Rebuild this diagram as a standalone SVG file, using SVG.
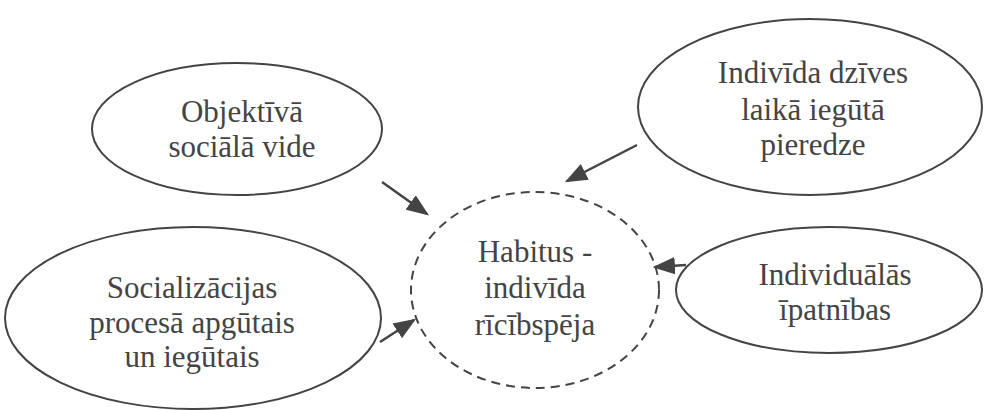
<svg xmlns="http://www.w3.org/2000/svg" width="984" height="410" viewBox="0 0 984 410">
  <style>
    .node { fill: #ffffff; stroke: #444444; stroke-width: 2; }
    .dash { fill: #ffffff; stroke: #444444; stroke-width: 2; stroke-dasharray: 9 6; }
    .label { font-family: "Liberation Serif", "DejaVu Serif", serif; font-size: 31px; fill: #444444; text-anchor: middle; }
    .edge { stroke: #444444; stroke-width: 2.5; fill: none; marker-end: url(#arrow); }
  </style>
  <defs>
    <!-- filled triangular arrowhead shared by all connectors -->
    <marker id="arrow" markerWidth="9" markerHeight="7" refX="8" refY="3.5" orient="auto" markerUnits="strokeWidth">
      <path d="M0,0 L9,3.5 L0,7 Z" fill="#444444"/>
    </marker>
  </defs>
  <rect width="984" height="410" fill="#ffffff"/>

  <g id="objektiva">
    <ellipse class="node" cx="237" cy="129" rx="145" ry="66"/>
    <text class="label" x="242" y="122">Objektīvā</text>
    <text class="label" x="242" y="157">sociālā vide</text>
  </g>

  <g id="pieredze">
    <ellipse class="node" cx="810" cy="107" rx="172" ry="88"/>
    <text class="label" x="813" y="83">Indivīda dzīves</text>
    <text class="label" x="813" y="120">laikā iegūtā</text>
    <text class="label" x="813" y="155">pieredze</text>
  </g>

  <g id="socializacija">
    <ellipse class="node" cx="193" cy="318" rx="188" ry="91"/>
    <text class="label" x="192" y="298">Socializācijas</text>
    <text class="label" x="192" y="333">procesā apgūtais</text>
    <text class="label" x="192" y="367">un iegūtais</text>
  </g>

  <g id="ipatnibas">
    <ellipse class="node" cx="829" cy="290" rx="153" ry="63"/>
    <text class="label" x="835" y="285">Individuālās</text>
    <text class="label" x="835" y="320">īpatnības</text>
  </g>

  <g id="habitus">
    <ellipse class="dash" cx="535" cy="290" rx="124" ry="98"/>
    <text class="label" x="535" y="262">Habitus -</text>
    <text class="label" x="535" y="298">indivīda</text>
    <text class="label" x="535" y="335">rīcībspēja</text>
  </g>

  <g id="connectors">
    <line class="edge" x1="382" y1="182" x2="427" y2="214"/>
    <line class="edge" x1="637" y1="145" x2="567" y2="181"/>
    <line class="edge" x1="686" y1="265" x2="655" y2="267"/>
    <line class="edge" x1="380" y1="342" x2="414" y2="320"/>
  </g>
</svg>
